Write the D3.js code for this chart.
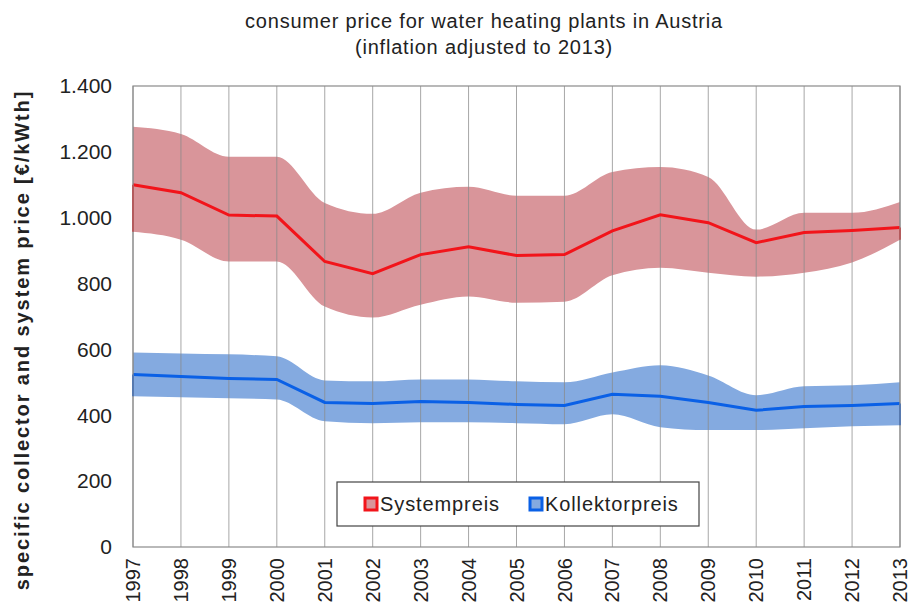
<!DOCTYPE html>
<html>
<head>
<meta charset="utf-8">
<script src="https://cdn.jsdelivr.net/npm/d3@7"></script>
<style>
  body { margin: 0; background: #fff; }
  text { font-family: "Liberation Sans", Arial, sans-serif; fill: #222; }
</style>
</head>
<body>
<div id="chart"></div>
<script>
// data
const years = [1997, 1998, 1999, 2000, 2001, 2002, 2003, 2004, 2005, 2006, 2007, 2008, 2009, 2010, 2011, 2012, 2013]

const systemMid   = [1100, 1076, 1008, 1005, 867, 830, 888, 912, 885, 888, 960, 1009, 985, 924, 955, 961, 970]
const systemHigh  = [1276, 1254, 1185, 1185, 1045, 1012, 1076, 1094, 1067, 1067, 1139, 1154, 1124, 964, 1015, 1015, 1048]
const systemLow   = [957, 933, 867, 867, 730, 697, 736, 761, 742, 745, 825, 848, 833, 821, 833, 864, 933]

const collMid  = [524, 518, 512, 509, 439, 436, 442, 439, 433, 430, 464, 458, 439, 415, 427, 430, 436]
const collHigh = [591, 588, 585, 579, 506, 503, 509, 509, 503, 500, 530, 552, 521, 461, 488, 491, 500]
const collLow  = [458, 455, 452, 448, 382, 376, 379, 379, 376, 373, 403, 364, 355, 355, 361, 367, 370]

const yTicks = [0, 200, 400, 600, 800, 1000, 1200, 1400]
const legendLabels = ["Systempreis", "Kollektorpreis"]

const width = 909
const height = 608
const margin = { top: 86, right: 9, bottom: 61, left: 133 }
const ctrWidth = width - margin.left - margin.right
const ctrHeight = height - margin.top - margin.bottom

const svg = d3.select('#chart')
  .append('svg')
  .attr('width', width)
  .attr('height', height)

const ctr = svg.append('g')
  .attr('transform', `translate(${margin.left}, ${margin.top})`)

const xScale = d3.scaleLinear()
  .domain([1997, 2013])
  .range([0, ctrWidth])

const yScale = d3.scaleLinear()
  .domain([0, 1400])
  .range([ctrHeight, 0])

// "1.400" style labels
const fmt = d => d >= 1000 ? d3.format(',')(d).replace(',', '.') : d

// bands
const series = [
  { mid: systemMid, high: systemHigh, low: systemLow, band: '#d9959a', line: '#f2141a' },
  { mid: collMid, high: collHigh, low: collLow, band: '#84aae0', line: '#0a60e6' }
]

const area = d3.area()
  .x((d, i) => xScale(years[i]))
  .curve(d3.curveMonotoneX)

series.forEach(s => {
  ctr.append('path')
    .datum(years.map((y, i) => i))
    .attr('d', area.y0(i => yScale(s.low[i])).y1(i => yScale(s.high[i])))
    .attr('fill', s.band)
})

// vertical gridlines over the bands
ctr.append('g')
  .selectAll('line')
  .data(years)
  .join('line')
  .attr('x1', d => xScale(d))
  .attr('x2', d => xScale(d))
  .attr('y1', 0)
  .attr('y2', ctrHeight)
  .attr('stroke', '#8a8a8a')
  .attr('stroke-opacity', 0.75)
  .attr('stroke-width', 1)

// lines
const line = d3.line()
  .x((d, i) => xScale(years[i]))

series.forEach(s => {
  ctr.append('path')
    .datum(s.mid)
    .attr('d', line.y(d => yScale(d)))
    .attr('fill', 'none')
    .attr('stroke', s.line)
    .attr('stroke-width', 3)
  // short vertical edges at both ends
  const ends = [0, years.length - 1]
  ctr.append('g')
    .selectAll('line')
    .data(ends)
    .join('line')
    .attr('x1', i => xScale(years[i]))
    .attr('x2', i => xScale(years[i]))
    .attr('y1', i => yScale(s.mid[i]))
    .attr('y2', i => yScale(s.low[i]))
    .attr('stroke', s.line)
    .attr('stroke-width', 2)
})

// frame
ctr.append('rect')
  .attr('width', ctrWidth)
  .attr('height', ctrHeight)
  .attr('fill', 'none')
  .attr('stroke', '#8a8a8a')
  .attr('stroke-width', 1.2)

// y axis
const yAxis = d3.axisLeft(yScale)
  .tickValues(yTicks)
  .tickSize(0)
  .tickPadding(21)
  .tickFormat(fmt)

const yAxisGroup = ctr.append('g').call(yAxis)
yAxisGroup.select('.domain').remove()
yAxisGroup.selectAll('text')
  .style('font-size', '21px')
  .attr('fill', '#222')

// x axis
const xAxis = d3.axisBottom(xScale)
  .tickValues(years)
  .tickSize(0)
  .tickFormat(d3.format('d'))

const xAxisGroup = ctr.append('g')
  .attr('transform', `translate(0, ${ctrHeight})`)
  .call(xAxis)
xAxisGroup.select('.domain').remove()
xAxisGroup.selectAll('text')
  .style('font-size', '20px')
  .attr('fill', '#222')
  .attr('transform', 'rotate(-90)')
  .attr('x', -11)
  .attr('y', 0)
  .attr('dy', '0.33em')
  .style('text-anchor', 'end')

// axis label
svg.append('text')
  .attr('transform', `translate(29, 340) rotate(-90)`)
  .style('text-anchor', 'middle')
  .style('font-size', '20px')
  .style('font-weight', 'bold')
  .style('letter-spacing', '1.9px')
  .text('specific collector and system price [€/kWth]')

// title
const title = svg.append('text')
  .style('text-anchor', 'middle')
  .style('font-size', '20px')
  .style('letter-spacing', '0.8px')
title.append('tspan').attr('x', 484).attr('y', 28).text('consumer price for water heating plants in Austria')
title.append('tspan').attr('x', 484).attr('y', 54).text('(inflation adjusted to 2013)')

// legend
const legend = svg.append('g')
  .attr('transform', 'translate(337, 482)')

legend.append('rect')
  .attr('width', 362)
  .attr('height', 44)
  .attr('fill', '#fff')
  .attr('stroke', '#444')
  .attr('stroke-width', 1.2)

const legendX = [27, 192]
const items = legend.selectAll('g.item')
  .data(series)
  .join('g')
  .attr('class', 'item')
  .attr('transform', (d, i) => `translate(${legendX[i]}, 0)`)

items.append('rect')
  .attr('x', 1)
  .attr('y', 16)
  .attr('width', 12)
  .attr('height', 12)
  .attr('fill', d => d.band)
  .attr('stroke', d => d.line)
  .attr('stroke-width', 3)

items.append('text')
  .attr('x', 16)
  .attr('y', 29)
  .style('font-size', '20px')
  .style('letter-spacing', '0.9px')
  .text((d, i) => legendLabels[i])
</script>
</body>
</html>
